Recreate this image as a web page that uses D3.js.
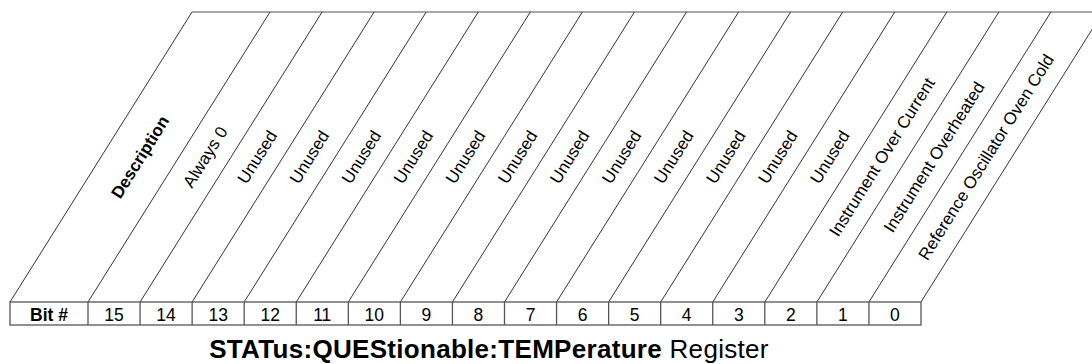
<!DOCTYPE html>
<html><head><meta charset="utf-8">
<script src="https://cdn.jsdelivr.net/npm/d3@7"></script>
<style>body{margin:0;background:#fff}svg{display:block}</style>
</head><body>
<script>
const headerBit = "Bit #";
const headerDesc = "Description";
const bits = [15,14,13,12,11,10,9,8,7,6,5,4,3,2,1,0];
const descriptions = ["Always 0","Unused","Unused","Unused","Unused","Unused","Unused","Unused","Unused","Unused","Unused","Unused","Unused","Instrument Over Current","Instrument Overheated","Reference Oscillator Oven Cold"];
const titleBold = "STATus:QUEStionable:TEMPerature";
const titleNormal = " Register";

const W = 1092, H = 364;
const svg = d3.select("body").append("svg").attr("width", W).attr("height", H);
const font = "'Liberation Sans', Arial, sans-serif";

const boxLeft = 10, headerRight = 88, boxRight = 921;
const yTop = 12, yBox = 302, yBoxBottom = 325;
const slantDx = 182;
const x = d3.scaleBand().domain(bits).range([headerRight, boxRight]);
const y = d3.scaleLinear().domain([0, 1]).range([yBox, yTop]);
const shift = t => slantDx * t;

const bounds = [boxLeft, headerRight].concat(bits.map(b => x(b) + x.bandwidth()));

svg.append("line").attr("x1", boxLeft + shift(1)).attr("y1", y(1)).attr("x2", W).attr("y2", y(1))
  .attr("stroke", "#8a8a8a").attr("stroke-width", 1.6);

svg.selectAll("line.diag").data(bounds).join("line").attr("class","diag")
  .attr("x1", d => d).attr("y1", y(0)).attr("x2", d => d + shift(1)).attr("y2", y(1))
  .attr("stroke", "#333").attr("stroke-width", 1);

svg.append("rect").attr("x", boxLeft).attr("y", yBox).attr("width", boxRight - boxLeft).attr("height", yBoxBottom - yBox)
  .attr("fill", "none").attr("stroke", "#555").attr("stroke-width", 1.3);
svg.selectAll("line.sep").data(bounds.slice(1, -1)).join("line").attr("class","sep")
  .attr("x1", d => d).attr("x2", d => d).attr("y1", yBox).attr("y2", yBoxBottom)
  .attr("stroke", "#555").attr("stroke-width", 1.3);

svg.append("text").attr("x", (boxLeft + headerRight) / 2).attr("y", 321).attr("text-anchor", "middle")
  .attr("font-family", font).attr("font-size", 17.5).attr("font-weight", "bold").text(headerBit);
svg.selectAll("text.bit").data(bits).join("text").attr("class","bit")
  .attr("x", d => x(d) + x.bandwidth() / 2).attr("y", 321).attr("text-anchor", "middle")
  .attr("font-family", font).attr("font-size", 17.5).text(d => d);

const ang = -Math.atan2(yBox - yTop, slantDx) * 180 / Math.PI;
const tMid = 0.5;
const labels = [{cx: (boxLeft + headerRight) / 2, text: headerDesc, bold: true}]
  .concat(bits.map((b, i) => ({cx: x(b) + x.bandwidth() / 2, text: descriptions[i], bold: false})));
svg.selectAll("text.lab").data(labels).join("text").attr("class","lab")
  .attr("transform", d => `translate(${d.cx + shift(tMid)},${y(tMid)}) rotate(${ang})`)
  .attr("text-anchor", "middle").attr("dy", "0.35em")
  .attr("font-family", font).attr("font-size", 17)
  .attr("font-weight", d => d.bold ? "bold" : "normal").text(d => d.text);

const t = svg.append("text").attr("x", 489).attr("y", 358).attr("text-anchor", "middle")
  .attr("font-family", font).attr("font-size", 26).attr("letter-spacing", 0.3);
t.append("tspan").attr("font-weight", "bold").text(titleBold);
t.append("tspan").text(titleNormal);
</script>
</body></html>
